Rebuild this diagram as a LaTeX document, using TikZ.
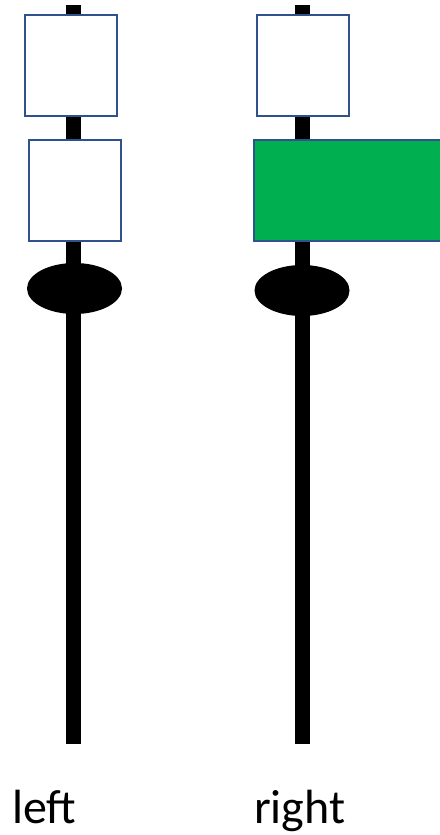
\documentclass[tikz,border=0pt]{standalone}
\usepackage{fontspec}
\setmainfont{Carlito}
\usetikzlibrary{shapes.geometric}
\definecolor{boxblue}{HTML}{2F528F}
\definecolor{boxgreen}{HTML}{00B050}
\begin{document}
\begin{tikzpicture}[x=1pt,y=-1pt]
        \tikzstyle{pole}=[draw=black,line width=15pt]
        \tikzstyle{gate}=[rectangle,draw=boxblue,line width=2pt,fill=white,minimum width=92pt,minimum height=101pt,inner sep=0pt]
        \tikzstyle{knob}=[ellipse,fill=black,minimum width=95pt,minimum height=51pt,inner sep=0pt]
        \tikzstyle{tag}=[anchor=base west,inner sep=0pt,font=\fontsize{48}{54}\selectfont]

        \useasboundingbox (0,0) rectangle (439,835);

        \begin{scope}
          \coordinate (ltop) at (73.5,5);
          \coordinate (lbot) at (73.5,744);
          \coordinate (rtop) at (302.5,5);
          \coordinate (rbot) at (302.5,744);

          \path[pole] (ltop) -- (lbot);
          \path[pole] (rtop) -- (rbot);

          \node [gate] (l1) at (71,65.5) {};
          \node [gate] (l2) at (74.5,190.5) {};
          \node [knob] (lk) at (74.5,288.5) {};

          \node [gate] (r1) at (303,65.5) {};
          \node [gate,fill=boxgreen,minimum width=195pt] (r2) at (351,190.5) {};
          \node [knob] (rk) at (302,290.5) {};

          \node [tag] (lt) at (12,823) {left};
          \node [tag] (rt) at (254,823) {right};
        \end{scope}
\end{tikzpicture}
\end{document}
